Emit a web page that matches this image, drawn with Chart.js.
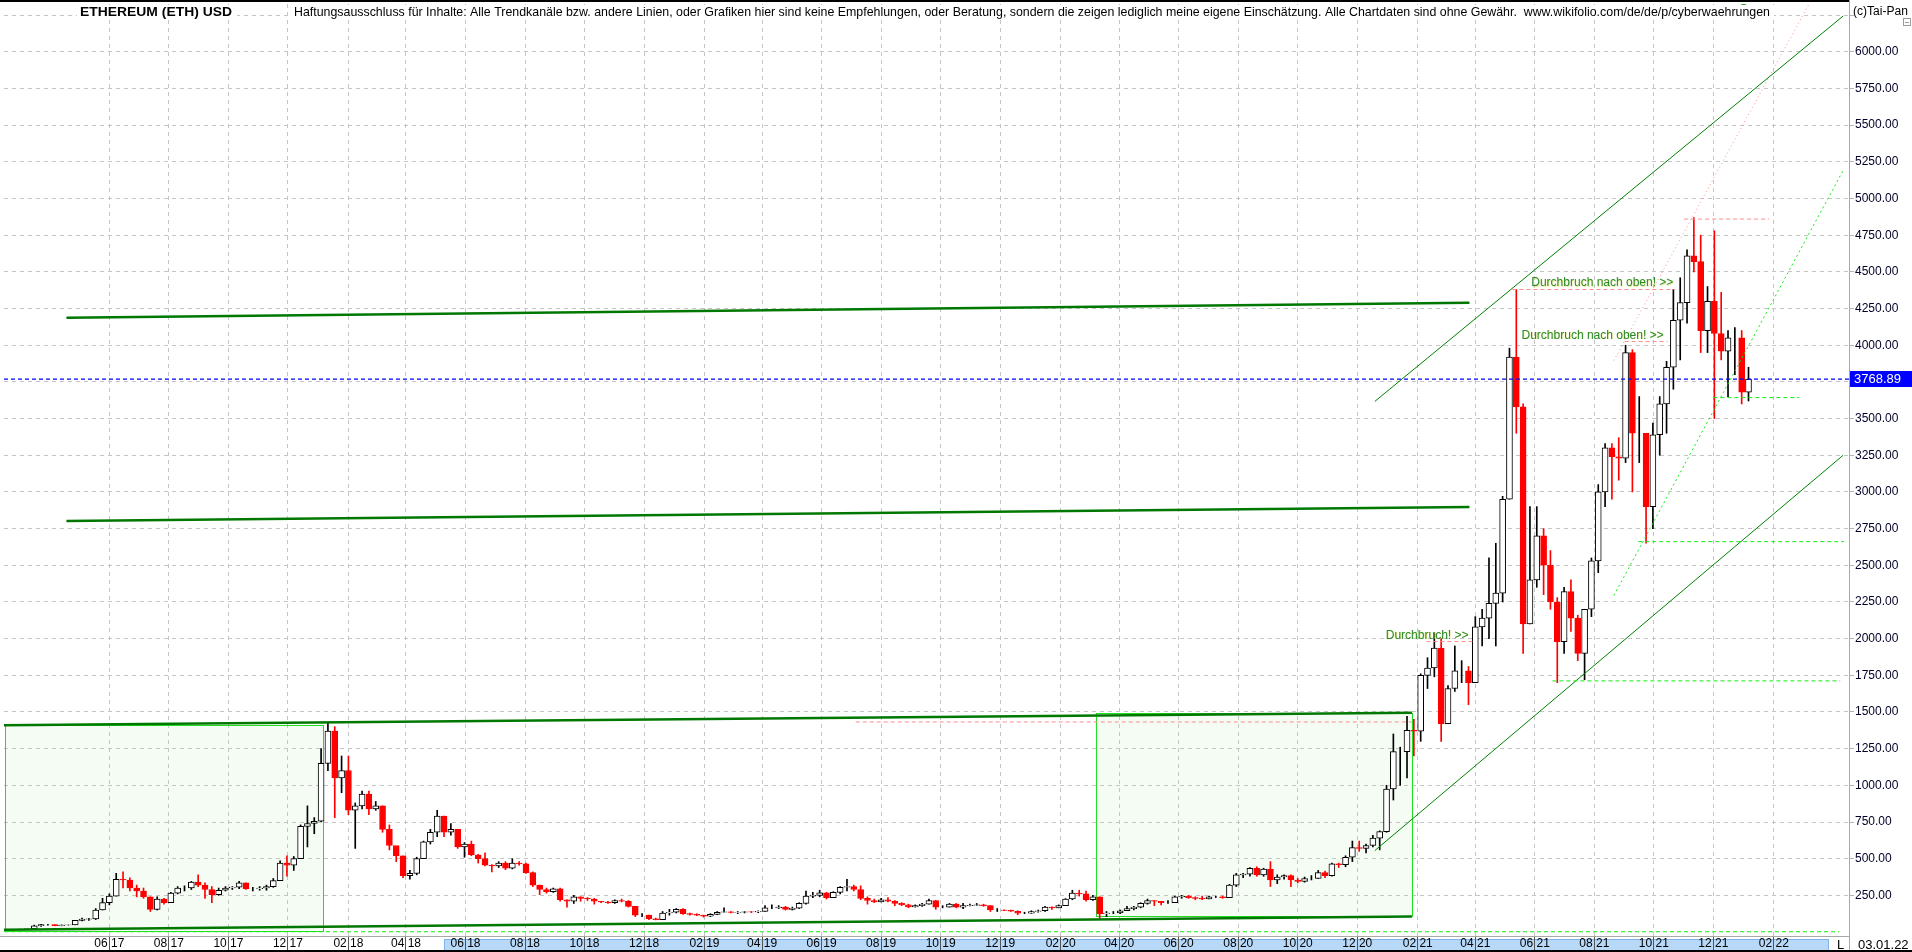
<!DOCTYPE html>
<html>
<head>
<meta charset="utf-8">
<title>ETHEREUM (ETH) USD</title>
<script src="https://cdn.jsdelivr.net/npm/chart.js@4.4.1/dist/chart.umd.min.js"></script>
<style>
  html, body { margin: 0; padding: 0; background: #fff; overflow: hidden; }
  #wrap { width: 1912px; height: 952px; }
</style>
</head>
<body>
<div id="wrap"><canvas id="ethChart" width="1912" height="952"></canvas></div>
<script>
// weekly candles (Monday start), open = previous close
const weekStart = '2017-02-27';
const firstOpen = 15.4;
const weeklyClose = [
  // 2017
  19.2, 23, 43, 50, 50, 44, 48, 49, 79, 88, 90, 150, 200, 245, 360, 355, 300, 280, 240, 155, 225, 200,
  265, 300, 300, 340, 320, 290, 255, 285, 300, 305, 335, 295, 295, 300, 310, 350, 470, 455, 500, 720, 740, 755,
  // 2018
  1150, 1370, 1050, 1100, 830, 860, 940, 840, 860, 700, 590, 520, 385, 400, 500, 615, 680, 790, 680, 700, 580, 600,
  525, 500, 455, 450, 470, 435, 470, 465, 405, 320, 290, 275, 295, 220, 210, 240, 230, 225, 210, 205, 200, 215,
  210, 175, 115, 115, 90, 85, 130, 135,
  // 2019
  155, 125, 120, 115, 108, 120, 135, 138, 134, 135, 138, 137, 141, 165, 165, 170, 155, 162, 195, 245, 250, 268,
  235, 270, 305, 310, 290, 230, 215, 205, 220, 210, 195, 185, 172, 180, 190, 215, 170, 170, 190, 170, 180, 182,
  185, 180, 150, 150, 148, 142, 128, 128,
  // 2020
  140, 145, 170, 165, 180, 225, 265, 260, 220, 240, 125, 130, 130, 145, 160, 170, 195, 215, 210, 200, 200, 240,
  245, 235, 230, 225, 240, 240, 235, 320, 390, 395, 435, 390, 430, 355, 375, 385, 355, 345, 365, 365, 405, 385,
  465, 460, 510, 575, 570, 590, 640, 685,
  // 2021
  975, 1230, 1230, 1375, 1370, 1750, 1800, 1935, 1420, 1660, 1780, 1780, 1700, 2080, 2140, 2240, 2310, 2950,
  3920, 3580, 2100, 2400, 2700, 2500, 2250, 1980, 2320, 2140, 1900, 2200, 2530, 3000, 3300, 3240, 3230, 3950,
  3400, 3400, 2900, 3390, 3600, 3850, 4170, 4290, 4610, 4570, 4100, 4300, 4080, 3960, 4050, 4050, 3680,
  // 2022
  3768.89
];
const weeklyHigh = [
  19.8, 24, 47, 53, 53, 50, 49, 50, 80, 96, 93, 160, 230, 260, 400, 410, 370, 320, 300, 240, 240, 230,
  270, 310, 315, 345, 390, 335, 310, 300, 310, 310, 345, 335, 305, 310, 320, 365, 485, 520, 515, 730, 860, 780,
  1250, 1430, 1400, 1200, 1200, 880, 960, 960, 890, 860, 730, 580, 520, 420, 510, 620, 700, 830, 790, 740, 700, 610,
  620, 530, 540, 460, 480, 480, 500, 480, 470, 410, 320, 300, 300, 300, 220, 250, 240, 235, 230, 210, 210, 220,
  225, 215, 175, 125, 115, 95, 140, 155,
  160, 160, 130, 125, 115, 125, 140, 165, 140, 140, 140, 140, 145, 180, 185, 180, 175, 170, 200, 280, 270, 285,
  270, 275, 310, 360, 320, 315, 240, 225, 230, 235, 215, 200, 190, 185, 195, 225, 215, 180, 195, 195, 195, 190,
  195, 190, 180, 160, 152, 150, 145, 135,
  145, 150, 175, 172, 185, 228, 285, 285, 280, 250, 240, 140, 140, 150, 175, 175, 200, 225, 215, 210, 215, 245,
  250, 250, 240, 245, 245, 245, 245, 325, 400, 400, 440, 445, 435, 480, 390, 390, 390, 365, 375, 385, 420, 415,
  470, 470, 520, 620, 620, 600, 660, 690,
  1000, 1350, 1260, 1470, 1450, 1760, 1870, 2040, 2000, 1680, 1950, 1850, 1810, 2150, 2200, 2550, 2650, 2970,
  3980, 4380, 3600, 2900, 2900, 2750, 2600, 2280, 2350, 2400, 2160, 2200, 2550, 3050, 3330, 3330, 3370, 4000,
  3970, 3650, 3400, 3470, 3650, 3890, 4380, 4460, 4650, 4870, 4750, 4400, 4780, 4360, 4100, 4120, 4100,
  3850
];
const weeklyLow = [
  15.2, 18.5, 23, 38, 47, 42, 42, 47, 49, 75, 80, 85, 150, 185, 245, 300, 280, 240, 230, 140, 150, 190,
  200, 260, 280, 290, 310, 230, 200, 250, 280, 290, 295, 290, 280, 285, 285, 305, 350, 380, 420, 500, 580, 670,
  750, 1100, 780, 950, 800, 570, 840, 800, 830, 680, 560, 480, 370, 360, 390, 500, 600, 650, 650, 660, 570, 510,
  520, 470, 450, 410, 440, 425, 430, 455, 400, 310, 255, 265, 270, 210, 170, 195, 210, 215, 190, 200, 195, 195,
  205, 170, 105, 105, 85, 83, 85, 115,
  130, 120, 115, 112, 102, 105, 118, 135, 130, 125, 130, 132, 132, 140, 160, 160, 150, 150, 160, 190, 235, 240,
  225, 235, 260, 280, 280, 220, 190, 200, 205, 205, 180, 180, 165, 170, 175, 190, 155, 165, 170, 165, 160, 178,
  180, 175, 140, 140, 145, 140, 118, 125,
  127, 135, 140, 155, 165, 180, 220, 245, 210, 215, 90, 105, 125, 125, 145, 150, 165, 190, 180, 185, 195, 200,
  230, 230, 220, 220, 225, 235, 230, 235, 310, 370, 380, 380, 380, 310, 330, 360, 310, 335, 340, 355, 365, 370,
  380, 440, 445, 480, 550, 540, 580, 560,
  680, 900, 1000, 1050, 1200, 1300, 1660, 1740, 1300, 1420, 1640, 1700, 1550, 1700, 1950, 2000, 1950, 2250,
  2950, 3400, 1900, 2100, 2350, 2300, 2200, 1700, 1900, 2050, 1850, 1720, 2150, 2450, 2900, 2950, 3080, 3200,
  3000, 3200, 2650, 2750, 3250, 3400, 3700, 3900, 4150, 4500, 3950, 3950, 3500, 3900, 3650, 3800, 3600,
  3620
];

// axis ticks
const xTickLabels = ['06 17', '08 17', '10 17', '12 17', '02 18', '04 18', '06 18', '08 18', '10 18', '12 18',
  '02 19', '04 19', '06 19', '08 19', '10 19', '12 19', '02 20', '04 20', '06 20', '08 20', '10 20', '12 20',
  '02 21', '04 21', '06 21', '08 21', '10 21', '12 21', '02 22'];
const yTicks = [250, 500, 750, 1000, 1250, 1500, 1750, 2000, 2250, 2500, 2750, 3000, 3250, 3500, 3750, 4000,
  4250, 4500, 4750, 5000, 5250, 5500, 5750, 6000, 6250];
const xRange = ['2017-02-13', '2022-04-19'];
const yRange = [-27, 6326];

// drawn lines and levels: [date, price]
const thickLines = [
  [['2017-02-13', 1410], ['2021-01-26', 1495]],
  [['2017-02-13', 15], ['2021-01-26', 106]],
  [['2017-04-18', 2802], ['2021-03-26', 2898]],
  [['2017-04-18', 4187], ['2021-03-26', 4289]]
];
const channelLines = [
  [['2020-12-19', 3617], ['2022-04-13', 6244]],
  [['2020-12-19', 555], ['2022-04-13', 3250]]
];
const pinkLevels = [
  [['2019-07-06', 1432], ['2021-01-26', 1432]],
  [['2021-02-10', 1980], ['2021-03-29', 1980]],
  [['2021-05-09', 4380], ['2021-10-23', 4380]],
  [['2021-09-01', 4025], ['2021-10-15', 4025]],
  [['2021-11-01', 4860], ['2022-01-27', 4860]]
];
const pinkTrend = [['2021-08-21', 3896], ['2022-03-09', 6326]];
const greenLevels = [
  [['2017-02-13', 2], ['2022-04-09', 2]],
  [['2021-06-19', 1712], ['2022-04-10', 1712]],
  [['2021-09-15', 2661], ['2022-04-14', 2661]],
  [['2021-12-01', 3643], ['2022-02-27', 3643]]
];
const greenTrend = [['2021-08-21', 2294], ['2022-04-13', 5192]];
const boxes = [
  ['2017-02-14', '2018-01-06', 8, 1410],
  ['2020-03-08', '2021-01-26', 108, 1493]
];
const lastPrice = 3768.89;
const lastDate = '03.01.22';
const notes = [
  { text: 'Durchbruch nach oben! >>', at: ['2021-10-21', 4380] },
  { text: 'Durchbruch nach oben! >>', at: ['2021-10-11', 4025] },
  { text: 'Durchbruch! >>', at: ['2021-03-25', 1980] }
];
const title = 'ETHEREUM (ETH) USD';
const disclaimer = 'Haftungsausschluss für Inhalte: Alle Trendkanäle bzw. andere Linien, oder Grafiken hier sind keine Empfehlungen, oder Beratung, sondern die zeigen lediglich meine eigene Einschätzung. Alle Chartdaten sind ohne Gewähr.  www.wikifolio.com/de/de/p/cyberwaehrungen';

const FONT = "'Liberation Sans', Arial, sans-serif";
// narrow face for the date row if the machine has one
function hasFont(name) {
  const c = document.createElement('canvas').getContext('2d');
  c.font = '40px monospace';
  const base = c.measureText('0123456789 abc').width;
  c.font = "40px '" + name + "', monospace";
  return c.measureText('0123456789 abc').width !== base;
}
const dateFont = hasFont('Liberation Sans Narrow')
  ? { family: "'Liberation Sans Narrow'", size: 13 }
  : { family: FONT, size: 12 };

const DAY0 = Date.UTC(2017, 5, 1);
function dayOf(s) {
  const [y, m, d] = s.split('-').map(Number);
  return (Date.UTC(y, m - 1, d) - DAY0) / 864e5;
}
const labelDay = l => dayOf('20' + l.slice(3) + '-' + l.slice(0, 2) + '-01');

const candles = weeklyClose.map((c, i) => ({
  x: dayOf(weekStart) + 7 * i + 3,
  o: i ? weeklyClose[i - 1] : firstOpen,
  h: weeklyHigh[i], l: weeklyLow[i], c
}));
const isUp = k => k.c >= k.o;

function seg(pts, color, width, dash) {
  return {
    type: 'line',
    data: pts.map(p => ({ x: dayOf(p[0]), y: p[1] })),
    borderColor: color, borderWidth: width, borderDash: dash || [],
    pointRadius: 0, pointHoverRadius: 0, fill: false, tension: 0, order: 1
  };
}

const datasets = [
  {
    label: 'wick',
    data: candles.map(k => ({ x: k.x, y: [k.l, k.h] })),
    backgroundColor: candles.map(k => isUp(k) ? '#000000' : '#ff0000'),
    borderWidth: 0, barThickness: 1, grouped: false, order: 10
  },
  {
    label: 'body',
    data: candles.map(k => ({ x: k.x, y: [k.o, k.c] })),
    backgroundColor: candles.map(k => isUp(k) ? '#ffffff' : '#ff0000'),
    borderColor: candles.map(k => isUp(k) ? '#000000' : '#ff0000'),
    borderWidth: 1, borderSkipped: false, barThickness: 6, grouped: false, order: 9
  },
  ...pinkLevels.map(p => seg(p, '#ff8c8c', 1, [4, 3])),
  seg(pinkTrend, '#ff9090', 1, [1, 3]),
  ...greenLevels.map(p => seg(p, '#11ee11', 1, [4, 3])),
  seg(greenTrend, '#11ee11', 1, [2, 3]),
  ...channelLines.map(p => seg(p, '#008000', 1)),
  ...thickLines.map(p => seg(p, '#007800', 2.5)),
  seg([[xRange[0], lastPrice], [xRange[1], lastPrice]], '#0000ff', 1.2, [4, 3]),
  {
    type: 'line', data: [{ x: dayOf('2022-01-01'), y: 6300 }], showLine: false,
    pointRadius: 4, pointBackgroundColor: '#22b022', pointBorderWidth: 0, order: 0
  }
];

const overlay = {
  id: 'overlay',
  beforeDraw(chart) {
    const { ctx, scales: { x, y } } = chart;
    ctx.save();
    ctx.fillStyle = '#ffffff';
    ctx.fillRect(0, 0, chart.width, chart.height);
    ctx.fillStyle = '#f4fcf4';
    boxes.forEach(b => {
      const x0 = x.getPixelForValue(dayOf(b[0])), x1 = x.getPixelForValue(dayOf(b[1]));
      const y0 = y.getPixelForValue(b[3]), y1 = y.getPixelForValue(b[2]);
      ctx.fillRect(x0, y0, x1 - x0, y1 - y0);
    });
    // scroll band under the date labels
    ctx.fillStyle = '#b8d8f8';
    ctx.fillRect(444, 939, 1384, 11);
    ctx.strokeStyle = '#80b4e6';
    ctx.lineWidth = 1;
    ctx.strokeRect(444.5, 939.5, 1384, 11);
    ctx.restore();
  },
  beforeDatasetsDraw(chart) {
    const { ctx, scales: { x, y } } = chart;
    ctx.save();
    ctx.strokeStyle = '#22dd22';
    ctx.lineWidth = 1;
    boxes.forEach(b => {
      const x0 = Math.round(x.getPixelForValue(dayOf(b[0]))) + 0.5;
      const x1 = Math.round(x.getPixelForValue(dayOf(b[1]))) + 0.5;
      const y0 = Math.round(y.getPixelForValue(b[3])) + 0.5;
      const y1 = Math.round(y.getPixelForValue(b[2])) + 0.5;
      ctx.strokeRect(x0, y0, x1 - x0, y1 - y0);
    });
    ctx.restore();
  },
  afterDatasetsDraw(chart) {
    const { ctx, scales: { x, y } } = chart;
    ctx.save();
    ctx.font = '12px ' + FONT;
    ctx.textAlign = 'right';
    ctx.textBaseline = 'alphabetic';
    notes.forEach(n => {
      const px = x.getPixelForValue(dayOf(n.at[0]));
      const py = y.getPixelForValue(n.at[1]) - 3;
      ctx.fillStyle = 'rgba(220,220,60,0.55)';
      ctx.fillText(n.text, px + 0.6, py + 0.6);
      ctx.fillStyle = '#2a8a2a';
      ctx.fillText(n.text, px, py);
    });
    ctx.restore();
  },
  afterDraw(chart) {
    const { ctx, scales: { y } } = chart;
    ctx.save();
    // frame
    ctx.strokeStyle = '#a8a8a8';
    ctx.lineWidth = 1;
    ctx.beginPath();
    ctx.moveTo(1849.5, 0); ctx.lineTo(1849.5, 952);
    ctx.moveTo(0, 936.5); ctx.lineTo(1849, 936.5);
    ctx.stroke();
    ctx.strokeStyle = '#000000';
    ctx.lineWidth = 2;
    ctx.beginPath();
    ctx.moveTo(0, 1); ctx.lineTo(1849, 1);
    ctx.moveTo(0, 951); ctx.lineTo(1912, 951);
    ctx.stroke();

    const fit = (text, x0, base, width, font, color) => {
      ctx.font = font;
      const w = ctx.measureText(text).width;
      ctx.save();
      ctx.translate(x0, base);
      ctx.scale(width / w, 1);
      ctx.fillStyle = color;
      ctx.textAlign = 'left';
      ctx.textBaseline = 'alphabetic';
      ctx.fillText(text, 0, 0);
      ctx.restore();
    };
    ctx.fillStyle = '#ffffff';
    ctx.fillRect(77, 5, 160, 15);
    ctx.fillRect(290, 5, 1484, 15);
    fit(title, 80, 16, 152, 'bold 13px ' + FONT, '#000000');
    fit(disclaimer, 294, 16, 1476, '13px ' + FONT, '#000000');
    fit('(c)Tai-Pan', 1853, 15, 55, '12px ' + FONT, '#000000');

    // small collapse box
    ctx.strokeStyle = '#9a9a9a';
    ctx.lineWidth = 1;
    ctx.strokeRect(1903.5, 18.5, 7, 7);
    ctx.beginPath(); ctx.moveTo(1905, 22.5); ctx.lineTo(1909, 22.5); ctx.stroke();

    // current price tag
    const py = Math.round(y.getPixelForValue(lastPrice));
    ctx.fillStyle = '#0000ff';
    ctx.fillRect(1850, py - 8, 62, 16);
    ctx.fillStyle = '#ffffff';
    ctx.font = '13px ' + FONT;
    ctx.textBaseline = 'middle';
    ctx.textAlign = 'left';
    ctx.fillText(lastPrice.toFixed(2), 1854, py + 0.5);

    // bottom right
    ctx.fillStyle = '#000000';
    ctx.textBaseline = 'alphabetic';
    ctx.font = '13px ' + FONT;
    ctx.fillText('L', 1837, 949);
    ctx.fillText(lastDate, 1858, 949);
    ctx.restore();
  }
};

new Chart(document.getElementById('ethChart'), {
  type: 'bar',
  data: { datasets },
  options: {
    responsive: false,
    animation: false,
    devicePixelRatio: 1,
    layout: { padding: 0 },
    plugins: { legend: { display: false }, tooltip: { enabled: false } },
    scales: {
      x: {
        type: 'linear',
        min: dayOf(xRange[0]), max: dayOf(xRange[1]),
        offset: false,
        afterBuildTicks: s => { s.ticks = xTickLabels.map(l => ({ value: labelDay(l) })); },
        afterFit: s => { s.height = 16; s.paddingLeft = 0; s.paddingRight = 0; },
        grid: { color: '#c4c4c4', offset: false, drawTicks: true, tickLength: 16, tickColor: '#555555' },
        border: { display: false, dash: [4, 4] },
        ticks: {
          autoSkip: false, maxRotation: 0, minRotation: 0, padding: -16, color: '#000000',
          font: dateFont,
          callback: (v, i) => xTickLabels[i]
        }
      },
      y: {
        type: 'linear', position: 'right',
        min: yRange[0], max: yRange[1],
        afterBuildTicks: s => { s.ticks = yTicks.map(v => ({ value: v })); },
        afterFit: s => { s.width = 63; s.paddingTop = 0; s.paddingBottom = 0; },
        grid: { color: '#c4c4c4', drawTicks: true, tickLength: 5, tickColor: '#b4b4b4' },
        border: { display: false, dash: [4, 4] },
        ticks: {
          padding: 1, color: '#000028',
          font: { family: FONT, size: 12 },
          callback: v => v === 6250 ? '' : v.toFixed(2)
        }
      }
    }
  },
  plugins: [overlay]
});
</script>
</body>
</html>
